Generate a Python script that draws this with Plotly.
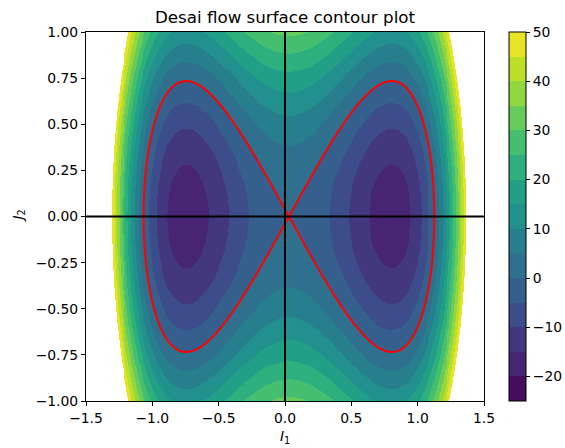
import numpy as np
import plotly.graph_objects as go
from plotly.colors import sample_colorscale

# ---- surface parameters (I1 centre shift and polynomial coefficients)
i1_center = 0.03
coef_i1_4 = 49.2
coef_i1_2 = -59.1
coef_j2_2 = 34.8
coef_j2_4 = -3.5

# ---- contour levels and tick labels
levels = [-25, -20, -15, -10, -5, 0, 5, 10, 15, 20, 25, 30, 35, 40, 45, 50]
x_ticks = [-1.5, -1.0, -0.5, 0.0, 0.5, 1.0, 1.5]
y_ticks = [-1.0, -0.75, -0.5, -0.25, 0.0, 0.25, 0.5, 0.75, 1.0]
cbar_ticks = [-20, -10, 0, 10, 20, 30, 40, 50]
zero_level = [0]

# ---- grid
nx, ny = 420, 380
I1 = np.linspace(-1.5, 1.5, nx)
J2 = np.linspace(-1.0, 1.0, ny)
X, Y = np.meshgrid(I1, J2)
U = X - i1_center
Z = coef_i1_4 * U**4 + coef_i1_2 * U**2 + coef_j2_2 * Y**2 + coef_j2_4 * Y**4

step = levels[1] - levels[0]
nb = len(levels) - 1
band = np.floor((Z - levels[0]) / step)
Zb = levels[0] + (band + 0.5) * step
Zb[(Z > levels[-1]) | (Z < levels[0])] = np.nan
zfill = [[None if np.isnan(v) else float(v) for v in row] for row in Zb]

cols = sample_colorscale('Viridis', [(k + 0.5) / nb for k in range(nb)])
cscale = []
for k, c in enumerate(cols):
    cscale.append([k / nb, c])
    cscale.append([(k + 1) / nb, c])

W, H = 565, 448
ml, mr, mt, mb = 86, 81, 32, 47
pw = W - ml - mr
ph = H - mt - mb
cb_x = (509 - ml) / pw
cb_th = 17

fig = go.Figure()
fig.add_trace(go.Heatmap(
    x=I1, y=J2, z=zfill, zmin=levels[0], zmax=levels[-1], zsmooth=False,
    colorscale=cscale, hoverinfo='skip',
    colorbar=dict(
        thickness=cb_th, thicknessmode='pixels', len=1, lenmode='fraction',
        x=cb_x, xanchor='left', y=0.5, yanchor='middle', xpad=0, ypad=0,
        outlinewidth=1, outlinecolor='black',
        tickmode='array', tickvals=cbar_ticks, ticktext=[str(t).replace('-', '\u2212') for t in cbar_ticks],
        ticks='outside', ticklen=4, tickwidth=1, tickcolor='black',
        tickfont=dict(family='DejaVu Sans', size=13.9, color='black'),
    ),
))
fig.add_trace(go.Contour(
    x=I1, y=J2, z=Z, showscale=False, hoverinfo='skip',
    contours=dict(start=zero_level[0], end=zero_level[0] + 1, size=10, coloring='none'),
    line=dict(color='red', width=2),
))

# axis lines at I1 = 0 and J2 = 0
fig.add_shape(type='line', xref='x', yref='paper', x0=0, x1=0, y0=0, y1=1,
              line=dict(color='black', width=2))
fig.add_shape(type='line', xref='paper', yref='y', x0=0, x1=1, y0=0, y1=0,
              line=dict(color='black', width=2))
# zero line on colorbar
zfrac = (zero_level[0] - levels[0]) / (levels[-1] - levels[0])
fig.add_shape(type='line', xref='paper', yref='paper', x0=cb_x, x1=cb_x + cb_th / pw,
              y0=zfrac, y1=zfrac, line=dict(color='red', width=2.5))

axis_font = dict(family='DejaVu Sans', size=13.9, color='black')
fig.update_xaxes(range=[-1.5, 1.5], tickmode='array', tickvals=x_ticks,
                 ticktext=[f'{t:.1f}'.replace('-', '\u2212') for t in x_ticks],
                 ticks='outside', ticklen=4, tickwidth=1, tickcolor='black',
                 showline=True, mirror=True, linecolor='black', linewidth=1,
                 showgrid=False, zeroline=False, tickfont=axis_font)
fig.update_yaxes(range=[-1.0, 1.0], tickmode='array', tickvals=y_ticks,
                 ticktext=[f'{t:.2f}'.replace('-', '\u2212') for t in y_ticks],
                 ticks='outside', ticklen=4, tickwidth=1, tickcolor='black',
                 showline=True, mirror=True, linecolor='black', linewidth=1,
                 showgrid=False, zeroline=False, tickfont=axis_font)

fig.add_annotation(text='<i>I</i><sub>1</sub>', xref='paper', yref='paper',
                   x=0.5, y=-(437 - (H - mb)) / ph, yanchor='middle',
                   showarrow=False, font=dict(family='DejaVu Sans', size=13.9, color='black'))
fig.add_annotation(text='<i>J</i><sub>2</sub>', xref='paper', yref='paper',
                   x=(18 - ml) / pw, y=0.5, xanchor='center', yanchor='middle', textangle=-90,
                   showarrow=False, font=dict(family='DejaVu Sans', size=13.9, color='black'))

fig.update_layout(
    width=W, height=H, margin=dict(l=ml, r=mr, t=mt, b=mb, autoexpand=False),
    paper_bgcolor='white', plot_bgcolor='white',
    title=dict(text='Desai flow surface contour plot', x=0.5, xref='paper', xanchor='center',
               y=1 - 17.5 / H, yref='container', yanchor='middle',
               font=dict(family='DejaVu Sans', size=16.7, color='black')),
    showlegend=False,
)
fig.write_html('out.html')
